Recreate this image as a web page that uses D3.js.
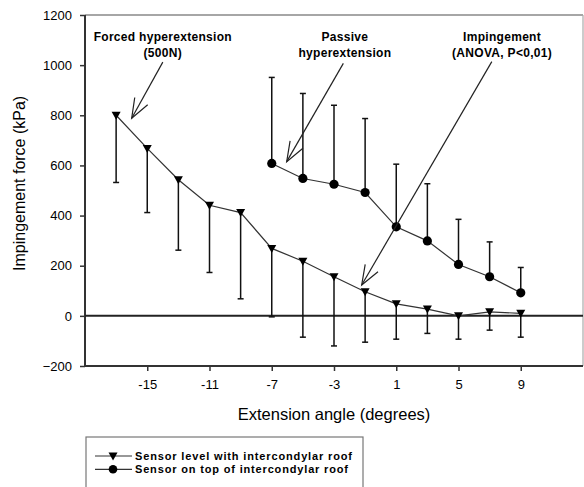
<!DOCTYPE html>
<html><head><meta charset="utf-8">
<script src="https://cdn.jsdelivr.net/npm/d3@7"></script>
<style>body{margin:0;background:#fff}svg{display:block}text{font-family:Arial,"Liberation Sans",sans-serif;fill:#000}</style>
</head><body>
<svg id="c" width="584" height="487"></svg>
<script>
const xTicks = [-15, -11, -7, -3, 1, 5, 9];
const yTicks = [-200, 0, 200, 400, 600, 800, 1000, 1200];

const levelAngles = [-17, -15, -13, -11, -9, -7, -5, -3, -1, 1, 3, 5, 7, 9];
const levelMean   = [800, 668, 543, 441, 412, 269, 218, 156, 96, 48, 27, 0, 16, 10];
const levelLower  = [532, 412, 262, 173, 68, -4, -85, -120, -105, -93, -70, -93, -57, -85];

const topAngles = [-7, -5, -3, -1, 1, 3, 5, 7, 9];
const topMean   = [608, 548, 525, 492, 355, 299, 205, 156, 92];
const topUpper  = [951, 887, 840, 787, 605, 527, 385, 295, 193];

const legendLabels = ["Sensor level with intercondylar roof", "Sensor on top of intercondylar roof"];
const notes = [
  {lines: ["Forced hyperextension", "(500N)"], tx: -14.0, ty: 1096, from: [-14.0, 1012], to: [-16.0, 788]},
  {lines: ["Passive", "hyperextension"], tx: -2.3, ty: 1096, from: [-2.4, 1007], to: [-6.04, 615]},
  {lines: ["Impingement", "(ANOVA, P<0,01)"], tx: 7.8, ty: 1096, from: [7.14, 1014], to: [-1.22, 123]}
];

const svg = d3.select("#c");
const x = d3.scaleLinear().domain([-19, 13]).range([85, 583]);
const y = d3.scaleLinear().domain([-200, 1200]).range([366, 15]);

// frame (top/right)
svg.append("line").attr("x1", 85).attr("x2", 583).attr("y1", y(1200)).attr("y2", y(1200)).attr("stroke", "#888").attr("stroke-width", 1.5);
svg.append("line").attr("x1", 583).attr("x2", 583).attr("y1", 15).attr("y2", 366).attr("stroke", "#aaa").attr("stroke-width", 1.2);

// axes
const yAxis = svg.append("g").attr("transform", "translate(85,0)")
  .call(d3.axisLeft(y).tickValues(yTicks).tickSize(5).tickPadding(8).tickFormat(d3.format("d")));
const xAxis = svg.append("g").attr("transform", "translate(0,366)")
  .call(d3.axisBottom(x).tickValues(xTicks).tickSize(5).tickPadding(9).tickFormat(d => d < 0 ? "-" + Math.abs(d) : d));
[yAxis, xAxis].forEach(g => {
  g.select(".domain").attr("stroke", "#333").attr("stroke-width", 2);
  g.selectAll(".tick line").attr("stroke", "#333").attr("stroke-width", 1.5);
  g.selectAll("text").attr("font-size", 13).attr("font-family", "Arial, 'Liberation Sans', sans-serif").attr("fill", "#000");
});
yAxis.select(".domain").attr("d", "M0,366V15");
xAxis.select(".domain").attr("d", "M85,0H583");

// zero line
svg.append("line").attr("x1", 85).attr("x2", 583).attr("y1", y(0)).attr("y2", y(0)).attr("stroke", "#222").attr("stroke-width", 2);

// error bars
function errBars(ax, mean, end) {
  const g = svg.append("g").attr("stroke", "#111").attr("stroke-width", 1.5);
  ax.forEach((a, i) => {
    g.append("line").attr("x1", x(a)).attr("x2", x(a)).attr("y1", y(mean[i])).attr("y2", y(end[i]));
    g.append("line").attr("x1", x(a) - 3).attr("x2", x(a) + 3).attr("y1", y(end[i])).attr("y2", y(end[i]));
  });
}
errBars(levelAngles, levelMean, levelLower);
errBars(topAngles, topMean, topUpper);

// lines
const line = d3.line().x(d => x(d[0])).y(d => y(d[1]));
svg.append("path").datum(levelAngles.map((a, i) => [a, levelMean[i]])).attr("d", line)
  .attr("fill", "none").attr("stroke", "#333").attr("stroke-width", 1.2);
svg.append("path").datum(topAngles.map((a, i) => [a, topMean[i]])).attr("d", line)
  .attr("fill", "none").attr("stroke", "#333").attr("stroke-width", 1.2);

// markers
const tri = "M-4.5,-3.5L4.5,-3.5L0,4.5Z";
svg.append("g").selectAll("path").data(levelAngles).join("path")
  .attr("d", tri).attr("transform", (a, i) => `translate(${x(a)},${y(levelMean[i])})`).attr("fill", "#000");
svg.append("g").selectAll("circle").data(topAngles).join("circle")
  .attr("cx", a => x(a)).attr("cy", (a, i) => y(topMean[i])).attr("r", 4.6).attr("fill", "#000");

// annotations
notes.forEach(n => {
  const t = svg.append("text").attr("text-anchor", "middle").attr("font-size", 12).attr("font-weight", "bold")
    .attr("letter-spacing", 0.3).attr("x", x(n.tx)).attr("y", y(n.ty));
  n.lines.forEach((l, i) => t.append("tspan").attr("x", x(n.tx)).attr("dy", i ? 16 : 0).text(l));
  const x1 = x(n.from[0]), y1 = y(n.from[1]), x2 = x(n.to[0]), y2 = y(n.to[1]);
  svg.append("line").attr("x1", x1).attr("y1", y1).attr("x2", x2).attr("y2", y2).attr("stroke", "#222").attr("stroke-width", 1.2);
  const ang = Math.atan2(y1 - y2, x1 - x2), L = 21, h = 0.36;
  svg.append("path").attr("d", `M${x2 + L * Math.cos(ang - h)},${y2 + L * Math.sin(ang - h)}L${x2},${y2}L${x2 + L * Math.cos(ang + h)},${y2 + L * Math.sin(ang + h)}`)
    .attr("fill", "none").attr("stroke", "#222").attr("stroke-width", 1.2);
});

// axis titles
svg.append("text").attr("transform", `translate(25,183.4) rotate(-90)`).attr("text-anchor", "middle")
  .attr("font-size", 16).text("Impingement force (kPa)");
svg.append("text").attr("x", 334).attr("y", 420).attr("text-anchor", "middle")
  .attr("font-size", 16.5).text("Extension angle (degrees)");

// legend
svg.append("rect").attr("x", 86).attr("y", 437).attr("width", 277).attr("height", 70)
  .attr("fill", "none").attr("stroke", "#777").attr("stroke-width", 1.2);
const legendWidths = [217, 213];
legendLabels.forEach((l, i) => {
  const ly = 456 + i * 13.3;
  svg.append("line").attr("x1", 95).attr("x2", 132).attr("y1", ly).attr("y2", ly).attr("stroke", "#333").attr("stroke-width", 1.2);
  if (i === 0) svg.append("path").attr("d", tri).attr("transform", `translate(113,${ly})`).attr("fill", "#000");
  else svg.append("circle").attr("cx", 113).attr("cy", ly).attr("r", 4.3).attr("fill", "#000");
  svg.append("text").attr("x", 135).attr("y", ly + 4).attr("font-size", 11).attr("font-weight", "bold")
    .attr("textLength", legendWidths[i]).attr("lengthAdjust", "spacing").text(l);
});
</script>
</body></html>
